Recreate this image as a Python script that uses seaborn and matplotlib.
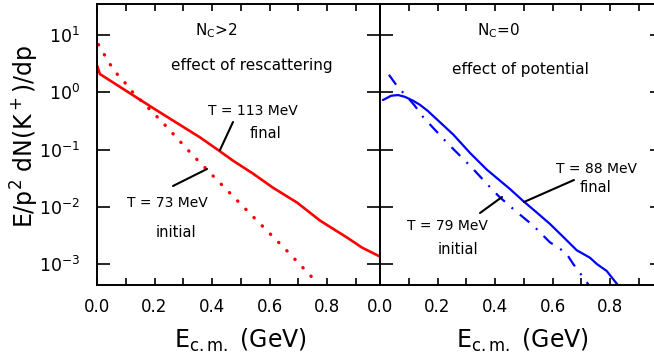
import numpy as np
import matplotlib
matplotlib.use("Agg")
import matplotlib.pyplot as plt
import seaborn as sns
from matplotlib.ticker import MultipleLocator, NullLocator, LogLocator, FuncFormatter
from matplotlib.lines import Line2D

# ---------------- data ----------------
# left panel: N_C > 2, effect of rescattering
red_final_x = [0.0, 0.01, 0.2, 0.358, 0.428, 0.473, 0.543, 0.612, 0.696, 0.776, 0.870, 0.922, 0.984]
red_final_y = [2.95, 2.08, 0.51, 0.163, 0.0927, 0.0638, 0.0378, 0.0215, 0.0118, 0.00571, 0.00289, 0.00193, 0.00135]

red_init_x = [0.005, 0.045, 0.068, 0.094, 0.117, 0.225, 0.329, 0.437, 0.547, 0.654, 0.761]
red_init_y = [6.8, 3.10, 2.13, 1.54, 1.09, 0.309, 0.0834, 0.0233, 0.00638, 0.00184, 0.000499]

# right panel: N_C = 0, effect of potential
blue_final_x = [0.010, 0.039, 0.063, 0.086, 0.115, 0.139, 0.167, 0.197, 0.255, 0.313, 0.371,
                0.452, 0.498, 0.545, 0.591, 0.638, 0.684, 0.730, 0.754, 0.788, 0.829]
blue_final_y = [0.731, 0.869, 0.893, 0.834, 0.711, 0.603, 0.468, 0.339, 0.182, 0.0871, 0.0447,
                0.0204, 0.0126, 0.00794, 0.00501, 0.00295, 0.00174, 0.00129, 0.00100, 0.000759, 0.000417]

blue_init_x = [0.031, 0.063, 0.091, 0.121, 0.151, 0.232, 0.313, 0.394, 0.417, 0.470, 0.533,
               0.591, 0.620, 0.649, 0.672, 0.719, 0.730]
blue_init_y = [2.02, 1.21, 0.869, 0.581, 0.363, 0.133, 0.0521, 0.0191, 0.0146, 0.00855, 0.00468,
               0.00239, 0.00195, 0.00150, 0.00100, 0.00048, 0.00040]

y_tick_values = [1e-3, 1e-2, 1e-1, 1e0, 1e1]
x_tick_labels_at = [0.0, 0.2, 0.4, 0.6, 0.8]

# ---------------- figure ----------------
sns.set_style("ticks")
plt.rcParams['font.family'] = ['DejaVu Sans']
plt.rcParams['mathtext.fontset'] = 'dejavusans'
for k in ('text.color', 'axes.labelcolor', 'xtick.color', 'ytick.color', 'axes.edgecolor'):
    plt.rcParams[k] = 'black'

W, H = 654, 358
fig = plt.figure(figsize=(W / 100, H / 100), dpi=100)

def px(x, y):
    return x / W, 1 - y / H

ax_left, ax_bottom, ax_w, ax_h = 97, 285, 283, 281
axL = fig.add_axes([ax_left / W, (H - ax_bottom) / H, ax_w / W, ax_h / H])
axR = fig.add_axes([380 / W, (H - ax_bottom) / H, ax_w / W, ax_h / H])

for ax in (axL, axR):
    ax.set_yscale('log')

sns.lineplot(x=red_final_x, y=red_final_y, ax=axL, color='#ff0000', lw=1.9,
             sort=False, estimator=None)
sns.lineplot(x=red_init_x, y=red_init_y, ax=axL, color='#ff0000', lw=2.4,
             linestyle=(0, (0.1, 3.4)), dash_capstyle='round', sort=False, estimator=None)
sns.lineplot(x=blue_final_x, y=blue_final_y, ax=axR, color='#0000ff', lw=1.6,
             sort=False, estimator=None)
sns.lineplot(x=blue_init_x, y=blue_init_y, ax=axR, color='#0000ff', lw=1.6,
             linestyle=(0, (5.5, 4.0, 0.9, 4.0)), sort=False, estimator=None)

ylo, yhi = 10 ** -3.366, 10 ** 1.541
fmt_x = FuncFormatter(lambda v, p: f"{v:.1f}")
for ax in (axL, axR):
    ax.set_xlim(0, 0.984)
    ax.set_ylim(ylo, yhi)
    ax.set_xticks(x_tick_labels_at)
    ax.xaxis.set_major_formatter(fmt_x)
    ax.xaxis.set_minor_locator(MultipleLocator(0.1))
    ax.yaxis.set_major_locator(LogLocator(base=10, numticks=20))
    ax.set_yticks(y_tick_values)
    ax.yaxis.set_minor_locator(NullLocator())
    for s in ax.spines.values():
        s.set_linewidth(1.4)
        s.set_color('black')
    ax.tick_params(axis='x', which='both', direction='in', top=True, bottom=True,
                   length=5, width=1.2, labelsize=12, pad=9, colors='black')
    ax.tick_params(axis='y', which='both', direction='in', left=True, right=True,
                   length=9.5, width=1.2, labelsize=12.5, pad=12, colors='black')
    ax.set_xlabel("")
    ax.set_ylabel("")
    ax.set_facecolor('white')

axR.tick_params(axis='y', labelleft=False)

# axis titles
fig.text(*px(25, 136.5), r"E/p$^2$ dN(K$^+$)/dp", rotation=90, ha='center', va='center', fontsize=17)
fig.text(*px(240, 348), r"E$_{\rm c.m.}$ (GeV)", ha='center', va='baseline', fontsize=17)
fig.text(*px(522, 348), r"E$_{\rm c.m.}$ (GeV)", ha='center', va='baseline', fontsize=17)

# panel annotations
fs = 11
fig.text(*px(216, 35), r"N$_{\rm C}$>2", ha='center', va='baseline', fontsize=fs)
fig.text(*px(252, 70), "effect of rescattering", ha='center', va='baseline', fontsize=fs)
fig.text(*px(253, 115), "T = 113 MeV", ha='center', va='baseline', fontsize=10)
fig.text(*px(265, 138), "final", ha='center', va='baseline', fontsize=10.5)
fig.text(*px(167, 207), "T = 73 MeV", ha='center', va='baseline', fontsize=10)
fig.text(*px(176, 237), "initial", ha='center', va='baseline', fontsize=10.5)

fig.text(*px(498, 35), r"N$_{\rm C}$=0", ha='center', va='baseline', fontsize=fs)
fig.text(*px(520, 74), "effect of potential", ha='center', va='baseline', fontsize=fs)
fig.text(*px(597, 173), "T = 88 MeV", ha='center', va='baseline', fontsize=10)
fig.text(*px(596, 192), "final", ha='center', va='baseline', fontsize=10.5)
fig.text(*px(447, 230), "T = 79 MeV", ha='center', va='baseline', fontsize=10)
fig.text(*px(458, 254), "initial", ha='center', va='baseline', fontsize=10.5)

# pointer lines
for (x1, y1), (x2, y2) in [((233, 122), (220, 150)),
                           ((173, 186), (207, 169)),
                           ((524, 202), (574, 180)),
                           ((480, 213), (502, 197))]:
    a, b = px(x1, y1)
    c, d = px(x2, y2)
    fig.add_artist(Line2D([a, c], [b, d], color='black', lw=1.5, transform=fig.transFigure))

fig.savefig("out.png", dpi=100)
